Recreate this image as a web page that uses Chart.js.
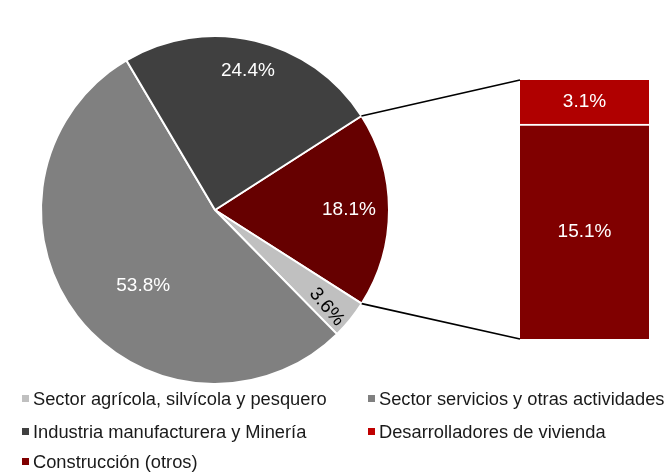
<!DOCTYPE html>
<html>
<head>
<meta charset="utf-8">
<script src="https://cdn.jsdelivr.net/npm/chart.js@4"></script>
<style>
  html, body { margin: 0; padding: 0; background: #fff; }
  #wrap { position: relative; width: 664px; height: 475px; overflow: hidden; font-family: "Liberation Sans", Arial, sans-serif; }
  #wrap canvas { position: absolute; left: 0; top: 0; }
  #barCanvas { pointer-events: none; }
  #legend { position: absolute; left: 0; top: 0; width: 664px; height: 475px; }
  .item { position: absolute; font-size: 18.3px; color: #1a1a1a; white-space: nowrap; line-height: 20px; }
  .item span.box { display: inline-block; width: 7px; height: 7px; margin-right: 4px; vertical-align: 3px; }
</style>
</head>
<body>
<div id="wrap">
  <canvas id="pieCanvas" width="664" height="475"></canvas>
  <canvas id="barCanvas" width="664" height="475"></canvas>
  <div id="legend"></div>
</div>
<script>
// pie: main sectors (construction shown as one slice, split in the bar)
const pieLabels = ['Construcción', 'Sector agrícola, silvícola y pesquero', 'Sector servicios y otras actividades', 'Industria manufacturera y Minería'];
const pieValues = [18.1, 3.6, 53.8, 24.4];
const pieColors = ['#660000', '#c0c0c0', '#808080', '#404040'];

// bar: breakdown of construction
const barCategories = [''];
const constOtros = [15.1];
const desarrolladores = [3.1];

// legend order as in the picture
const legendLabels = ['Sector agrícola, silvícola y pesquero', 'Sector servicios y otras actividades',
  'Industria manufacturera y Minería', 'Desarrolladores de vivienda', 'Construcción (otros)'];
const legendColors = ['#c0c0c0', '#808080', '#404040', '#c00000', '#800000'];

const FONT = '"Liberation Sans", Arial, sans-serif';

// labels inside pie slices
const pieLabelPlugin = {
  id: 'pieLabels',
  afterDatasetsDraw(chart, args, opts) {
    const ctx = chart.ctx;
    const meta = chart.getDatasetMeta(0);
    meta.data.forEach((arc, i) => {
      const p = opts.place[i];
      const mid = (arc.startAngle + arc.endAngle) / 2 + p.shift * Math.PI / 180;
      const r = arc.outerRadius * p.frac;
      const x = arc.x + Math.cos(mid) * r;
      const y = arc.y + Math.sin(mid) * r;
      ctx.save();
      ctx.translate(x, y);
      ctx.rotate(p.rot * Math.PI / 180);
      ctx.font = '19px ' + FONT;
      ctx.fillStyle = p.color;
      ctx.textAlign = 'center';
      ctx.textBaseline = 'middle';
      ctx.fillText(pieValues[i].toFixed(1) + '%', 0, 0);
      ctx.restore();
    });
  }
};

const pieChart = new Chart(document.getElementById('pieCanvas'), {
  type: 'pie',
  data: {
    labels: pieLabels,
    datasets: [{
      data: pieValues,
      backgroundColor: pieColors,
      borderColor: '#ffffff',
      borderWidth: 2
    }]
  },
  options: {
    responsive: false,
    animation: false,
    rotation: 57.3,
    layout: { padding: { left: 40, top: 35, right: 274, bottom: 90 } },
    plugins: {
      legend: { display: false },
      tooltip: { enabled: false },
      pieLabels: {
        place: [
          { frac: 0.77, shift: 0, rot: 0, color: '#ffffff' },
          { frac: 0.85, shift: 2, rot: 50, color: '#000000' },
          { frac: 0.6, shift: -9, rot: 0, color: '#ffffff' },
          { frac: 0.82, shift: 0, rot: 0, color: '#ffffff' }
        ]
      }
    }
  },
  plugins: [pieLabelPlugin]
});

// bar labels and connector lines to the pie
const barExtras = {
  id: 'barExtras',
  afterDatasetsDraw(chart) {
    const ctx = chart.ctx;
    ctx.save();
    ctx.font = '19px ' + FONT;
    ctx.fillStyle = '#ffffff';
    ctx.textAlign = 'center';
    ctx.textBaseline = 'middle';
    chart.data.datasets.forEach((ds, d) => {
      const bar = chart.getDatasetMeta(d).data[0];
      ctx.fillText(ds.data[0].toFixed(1) + '%', bar.x, (bar.y + bar.base) / 2);
    });
    const bottomBar = chart.getDatasetMeta(0).data[0];
    const topBar = chart.getDatasetMeta(1).data[0];
    const left = bottomBar.x - bottomBar.width / 2;
    const arc = pieChart.getDatasetMeta(0).data[0];
    ctx.strokeStyle = '#000000';
    ctx.lineWidth = 1.7;
    ctx.beginPath();
    ctx.moveTo(arc.x + Math.cos(arc.startAngle) * arc.outerRadius, arc.y + Math.sin(arc.startAngle) * arc.outerRadius);
    ctx.lineTo(left, topBar.y);
    ctx.moveTo(arc.x + Math.cos(arc.endAngle) * arc.outerRadius, arc.y + Math.sin(arc.endAngle) * arc.outerRadius);
    ctx.lineTo(left, bottomBar.base);
    ctx.stroke();
    ctx.restore();
  }
};

new Chart(document.getElementById('barCanvas'), {
  type: 'bar',
  data: {
    labels: barCategories,
    datasets: [
      { label: 'Construcción (otros)', data: constOtros, backgroundColor: '#800000',
        borderColor: '#ffffff', borderWidth: { top: 2, left: 0, right: 0, bottom: 0 }, borderSkipped: false },
      { label: 'Desarrolladores de vivienda', data: desarrolladores, backgroundColor: '#b00000', borderWidth: 0 }
    ]
  },
  options: {
    responsive: false,
    animation: false,
    layout: { padding: { left: 520, top: 80, right: 15, bottom: 136 } },
    scales: {
      x: { stacked: true, display: false },
      y: { stacked: true, display: false, min: 0, max: 18.2 }
    },
    datasets: { bar: { barPercentage: 1, categoryPercentage: 1 } },
    plugins: { legend: { display: false }, tooltip: { enabled: false } }
  },
  plugins: [barExtras]
});

// legend in two columns
const legendPos = [[22, 389], [368, 389], [22, 422], [368, 422], [22, 452]];
const legendEl = document.getElementById('legend');
legendLabels.forEach((label, i) => {
  const div = document.createElement('div');
  div.className = 'item';
  div.style.left = legendPos[i][0] + 'px';
  div.style.top = legendPos[i][1] + 'px';
  div.innerHTML = '<span class="box" style="background:' + legendColors[i] + '"></span>' + label;
  legendEl.appendChild(div);
});
</script>
</body>
</html>
